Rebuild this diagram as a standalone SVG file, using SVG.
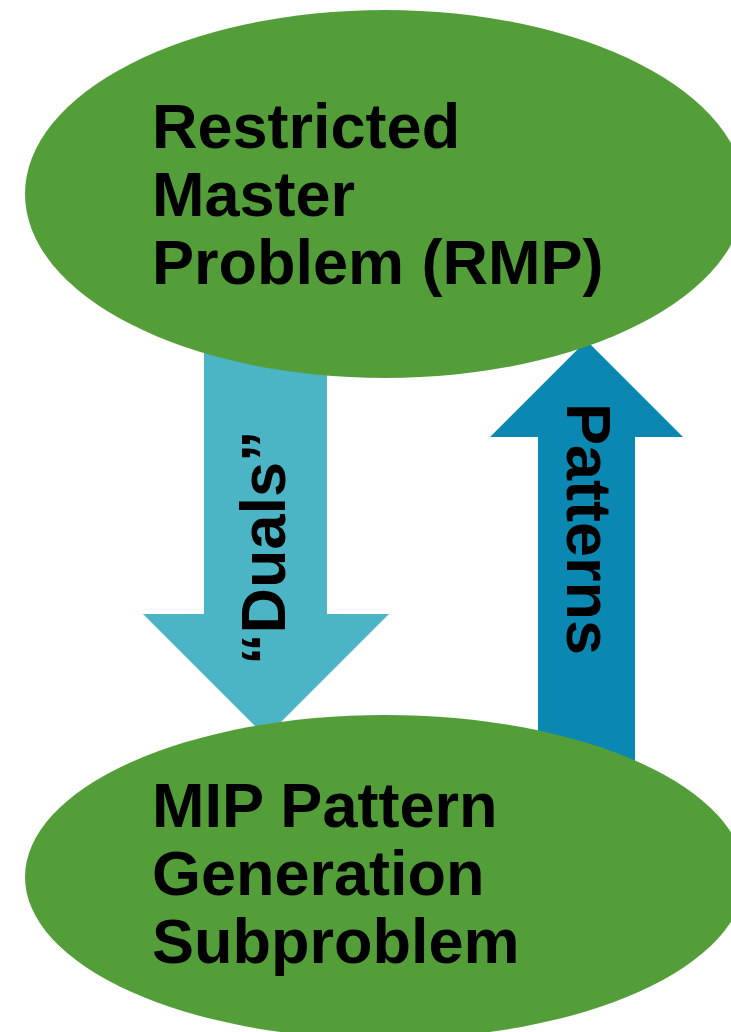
<svg xmlns="http://www.w3.org/2000/svg" width="731" height="1032" viewBox="0 0 731 1032">
  <style>
    .node { fill: #549e3a; }
    .label { font-family: "Liberation Sans", Arial, sans-serif; font-weight: bold; font-size: 63px; fill: #000000; }
    .duals { fill: #4bb5c6; }
    .patterns { fill: #0a88b2; }
  </style>
  <rect width="731" height="1032" fill="#ffffff"/>

  <!-- block arrows between the two problems -->
  <g id="connectors">
    <path class="duals" d="M204,340 L327,340 L327,614 L389,614 L266,737 L143,614 L204,614 Z"/>
    <path class="patterns" d="M538,820 L538,437 L490,437 L586.5,340.5 L683,437 L635,437 L635,820 Z"/>
  </g>

  <g id="rmp">
    <ellipse class="node" cx="385" cy="194" rx="360" ry="184"/>
    <text class="label" x="152" y="148">Restricted</text>
    <text class="label" x="152" y="216">Master</text>
    <text class="label" x="152" y="284">Problem (RMP)</text>
  </g>

  <g id="subproblem">
    <ellipse class="node" cx="385" cy="877" rx="360" ry="162"/>
    <text class="label" x="152" y="827">MIP Pattern</text>
    <text class="label" x="152" y="895">Generation</text>
    <text class="label" x="152" y="963">Subproblem</text>
  </g>

  <g id="connector-labels">
    <text class="label" transform="translate(285,665) rotate(-90)">“Duals”</text>
    <text class="label" transform="translate(567,403) rotate(90)">Patterns</text>
  </g>
</svg>
